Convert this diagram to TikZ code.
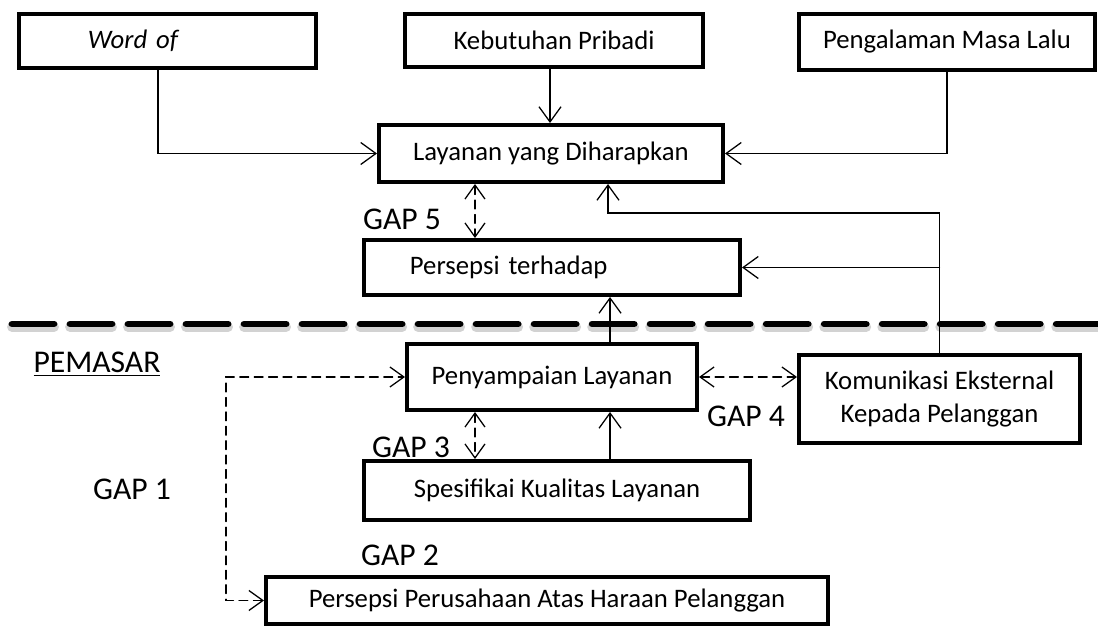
\documentclass[tikz,border=0pt]{standalone}
\usepackage{fontspec}
\setmainfont{Carlito}
\usetikzlibrary{arrows.meta}
\begin{document}
\begin{tikzpicture}[x=0.025cm,y=-0.025cm,line cap=round,
  font=\fontsize{19}{24}\selectfont,
  box/.style={draw,line width=2.8pt,inner sep=0pt},
  gaplabel/.style={inner sep=0pt,font=\fontsize{22.5}{27}\selectfont},
  flow/.style={-{Straight Barb[length=0.38cm,width=0.55cm]},line width=.9pt},
  gapflow/.style={{Straight Barb[length=0.35cm,width=0.5cm]}-{Straight Barb[length=0.35cm,width=0.5cm]},
    line width=.9pt,dash pattern=on 0.22cm off 0.14cm}]
  \useasboundingbox (0,0) rectangle (1098,628);
  % upper boxes
  \node[box,minimum width=7.425cm,minimum height=1.35cm,inner xsep=1.725cm,
    text width=3.975cm,align=left] (word) at (167.5,41) {\itshape Word of};
  \node[box,minimum width=7.45cm,minimum height=1.325cm] (kebutuhan) at (554,40.5) {Kebutuhan Pribadi};
  \node[box,minimum width=7.4cm,minimum height=1.4cm] (pengalaman) at (947,42) {Pengalaman Masa Lalu};
  \node[box,minimum width=8.6cm,minimum height=1.425cm] (harapan) at (551,153.5) {Layanan yang Diharapkan};
  \node[box,minimum width=9.4cm,minimum height=1.375cm,inner xsep=1.15cm,
    text width=7.1cm,align=left] (persepsi) at (552,267.5) {Persepsi terhadap};
  % separator
  \draw[gray!35,line width=7pt,dash pattern=on 1.05cm off 0.4cm] (12,327) -- (1098,327);
  \draw[line width=4.8pt,dash pattern=on 1.05cm off 0.4cm] (12,324) -- (1098,324);
  \node[gaplabel] (pemasar) at (97,364) {\underline{PEMASAR}};
  % lower boxes
  \node[box,minimum width=7.25cm,minimum height=1.65cm] (penyampaian) at (552,377) {Penyampaian Layanan};
  \node[box,minimum width=7.025cm,minimum height=2.2cm,align=center] (komunikasi) at (939.5,399)
    {Komunikasi Eksternal\\Kepada Pelanggan};
  \node[box,minimum width=9.65cm,minimum height=1.475cm] (spesifikasi) at (557,490.5) {Spesifikai Kualitas Layanan};
  \node[box,minimum width=14.05cm,minimum height=1.175cm] (perusahaan) at (547,600.5)
    {Persepsi Perusahaan Atas Haraan Pelanggan};
  \foreach \gapno/\gx/\gy in {1/132/489,2/400/555,3/411/447,4/746/416,5/402/219}
    \node[gaplabel] (gap\gapno) at (\gx,\gy) {GAP \gapno};
  % connectors
  \coordinate (feedback) at (608,213);
  \draw[flow] ([xshift=-0.24cm]word.south) |- (harapan.west);
  \draw[flow] ([xshift=-0.1cm]kebutuhan.south) -- ([xshift=-0.1cm]kebutuhan.south |- harapan.north);
  \draw[flow] (pengalaman.south) |- (harapan.east);
  \draw[flow] (komunikasi.north) |- (feedback) -- (feedback |- harapan.south);
  \draw[flow] (komunikasi.north |- persepsi.east) -- (persepsi.east);
  \draw[flow] ([xshift=1.45cm]penyampaian.north) -- ([xshift=1.45cm]penyampaian.north |- persepsi.south);
  \draw[flow] ([xshift=1.45cm]penyampaian.south |- spesifikasi.north) -- ([xshift=1.45cm]penyampaian.south);
  \draw[gapflow] ([xshift=-1.9cm]harapan.south) -- ([xshift=-1.9cm]harapan.south |- persepsi.north);
  \draw[gapflow] ([xshift=-1.925cm]penyampaian.south) -- ([xshift=-1.925cm]penyampaian.south |- spesifikasi.north);
  \draw[gapflow] (penyampaian.east) -- (penyampaian.east -| komunikasi.west);
  \draw[gapflow] (perusahaan.west) -- ++(-0.95cm,0) |- (penyampaian.west);
\end{tikzpicture}
\end{document}
